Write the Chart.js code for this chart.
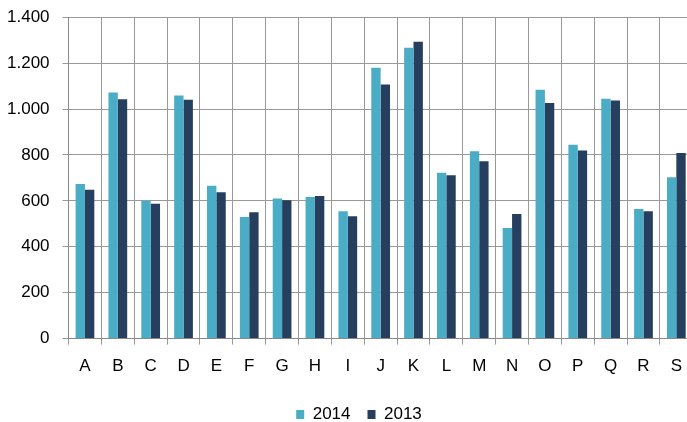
<!DOCTYPE html>
<html>
<head>
<meta charset="utf-8">
<script src="https://cdn.jsdelivr.net/npm/chart.js@4"></script>
<style>
    html, body { margin: 0; padding: 0; overflow: hidden; background: #fff; }
    #wrap { position: absolute; left: -6px; top: -6px; width: 700px; height: 439px; }
</style>
</head>
<body>
<div id="wrap"><canvas id="chart"></canvas></div>
<script>
const CATEGORIES = ['A', 'B', 'C', 'D', 'E', 'F', 'G', 'H', 'I', 'J', 'K', 'L', 'M', 'N', 'O', 'P', 'Q', 'R', 'S']
const VALUES_2014 = [673, 1072, 600, 1059, 666, 530, 610, 617, 555, 1180, 1267, 722, 816, 482, 1084, 844, 1045, 565, 703]
const VALUES_2013 = [648, 1043, 587, 1040, 637, 550, 603, 621, 533, 1107, 1293, 712, 772, 543, 1026, 819, 1037, 555, 808]
const Y_MAX = 1400
const Y_STEP = 200

// 1400 -> "1.400"
const fmt = (v) => String(v).replace(/\B(?=(\d{3})+(?!\d))/g, '.')

// legend sits a bit right of the canvas centre in the original
const legendShift = {
    id: 'legendShift',
    afterLayout (chart) {
        chart.legend.left += 15
        chart.legend.right += 15
    },
}

Chart.defaults.font.family = '"Liberation Sans", Arial, sans-serif'
Chart.defaults.font.size = 17
Chart.defaults.color = '#000'

const ctx = document.getElementById('chart').getContext('2d')
new Chart(ctx, {
    type: 'bar',
    data: {
        labels: CATEGORIES,
        datasets: [
            {
                label: '2014',
                data: VALUES_2014,
                backgroundColor: '#4BACC6',
            },
            {
                label: '2013',
                data: VALUES_2013,
                backgroundColor: '#263F5E',
            },
        ],
    },
    options: {
        responsive: true,
        maintainAspectRatio: false,
        animation: false,
        layout: { padding: { top: 2, right: 0, left: 0, bottom: 0 } },
        datasets: {
            bar: { categoryPercentage: 0.57, barPercentage: 1.0 },
        },
        plugins: {
            legend: {
                position: 'bottom',
                labels: {
                    boxWidth: 8,
                    boxHeight: 9,
                    padding: 17,
                    font: { size: 17 },
                },
            },
            tooltip: { enabled: false },
        },
        scales: {
            x: {
                grid: { color: '#999', tickLength: 6, offset: true },
                border: { color: '#888' },
                ticks: { padding: 12 },
            },
            y: {
                min: 0,
                max: Y_MAX,
                grid: { color: '#999', tickLength: 6 },
                border: { color: '#888' },
                ticks: {
                    stepSize: Y_STEP,
                    padding: 13,
                    callback: (v) => fmt(v),
                },
            },
        },
    },
    plugins: [ legendShift ],
})
</script>
</body>
</html>
